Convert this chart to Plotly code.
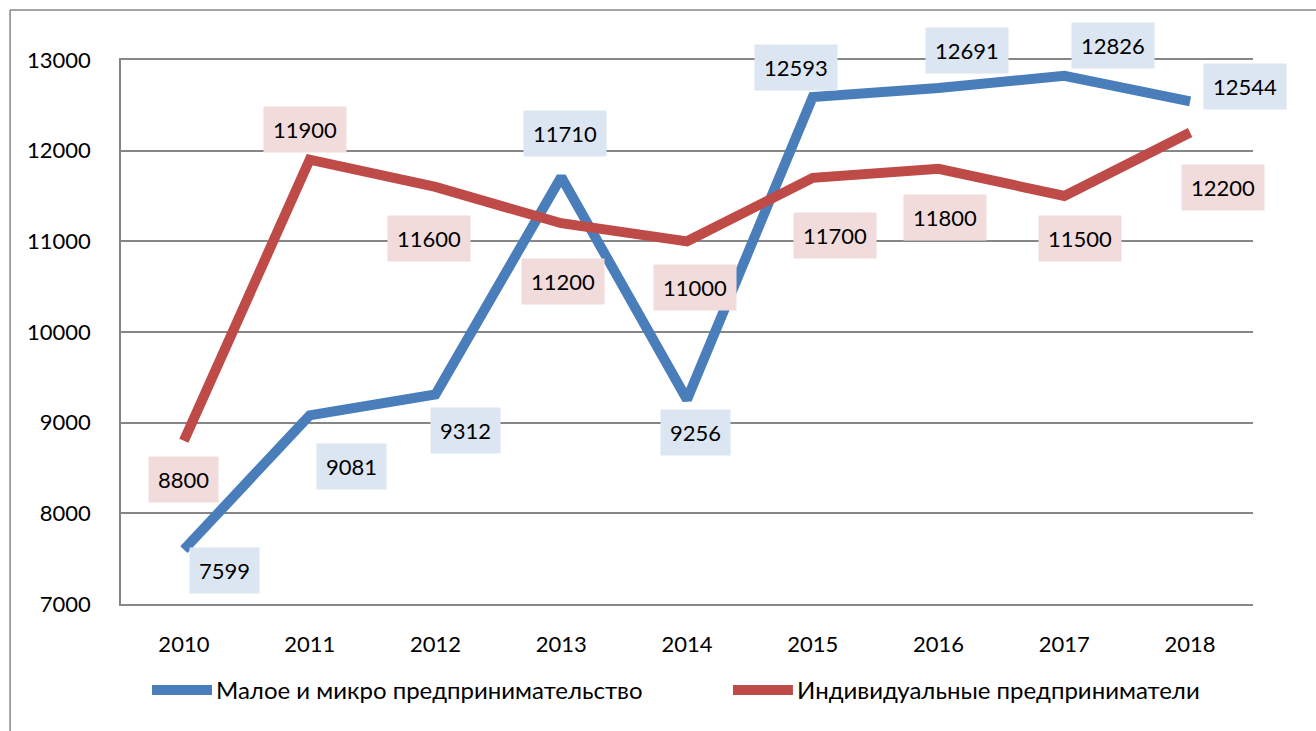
import plotly.graph_objects as go

years = ["2010", "2011", "2012", "2013", "2014", "2015", "2016", "2017", "2018"]
small_micro = [7599, 9081, 9312, 11710, 9256, 12593, 12691, 12826, 12544]
individual = [8800, 11900, 11600, 11200, 11000, 11700, 11800, 11500, 12200]
name_blue = "Малое и микро предпринимательство"
name_red = "Индивидуальные предприниматели"

blue = "#4A7EBB"
red = "#BE4B48"
blue_bg = "#DCE6F2"
red_bg = "#F2DCDB"
grid = "#868686"
font = "Lato, Carlito, 'Liberation Sans', sans-serif"
fs = 22

# label pixel offsets (dx, dy) relative to the point; dy positive = up
blue_off = [(41, -21), (42, -51), (30, -36), (4, 43), (8, -33), (-17, 29), (28, 38), (49, 30), (55, 15)]
red_off = [(0, -39), (-5, 30), (-6, -52), (2, -58), (8, -46), (22, -58), (6, -49), (16, -42), (33, -55)]

fig = go.Figure()
fig.add_trace(go.Scatter(x=years, y=small_micro, mode="lines", name=name_blue,
                         line=dict(color=blue, width=10), showlegend=False))
fig.add_trace(go.Scatter(x=years, y=individual, mode="lines", name=name_red,
                         line=dict(color=red, width=10), showlegend=False))

annotations = []
for ys, offs, bg in [(small_micro, blue_off, blue_bg), (individual, red_off, red_bg)]:
    for i, (y, (dx, dy)) in enumerate(zip(ys, offs)):
        annotations.append(dict(x=i, y=y, xref="x", yref="y", text=str(y), showarrow=False,
                                xshift=dx, yshift=dy, bgcolor=bg, borderpad=9,
                                font=dict(family=font, size=fs, color="#000000")))

# custom legend (paper coordinates)
leg_y = -0.158
shapes = [
    dict(type="line", xref="paper", yref="paper", x0=-0.098, x1=-0.098, y0=1.092, y1=-0.3,
         line=dict(color=grid, width=1.5)),
    dict(type="line", xref="paper", yref="paper", x0=-0.098, x1=1.06, y0=1.092, y1=1.092,
         line=dict(color=grid, width=1.5)),
]
for x0, color, name in [(0.0274, blue, name_blue), (0.5406, red, name_red)]:
    shapes.append(dict(type="line", xref="paper", yref="paper", x0=x0, x1=x0 + 0.053,
                       y0=leg_y, y1=leg_y, line=dict(color=color, width=10)))
    annotations.append(dict(x=x0 + 0.0548, y=leg_y, xref="paper", yref="paper", text=name,
                            showarrow=False, xanchor="left", yanchor="middle",
                            font=dict(family=font, size=24, color="#000000")))

fig.update_layout(
    width=1316, height=731,
    margin=dict(l=121, r=63, t=60, b=127),
    paper_bgcolor="white", plot_bgcolor="white",
    font=dict(family=font, size=fs, color="#000000"),
    showlegend=False,
    annotations=annotations,
    shapes=shapes,
)
fig.update_xaxes(type="category", range=[-0.5, 8.5], showgrid=False, ticks="",
                 showline=True, mirror=True, linecolor=grid, linewidth=1.5,
                 zeroline=False, ticklabelstandoff=20,
                 tickfont=dict(family=font, size=fs))
fig.update_yaxes(range=[7000, 13000], dtick=1000, tick0=7000, tickformat="d",
                 showgrid=True, gridcolor=grid, gridwidth=1.5, showline=True,
                 linecolor=grid, linewidth=1.5, zeroline=False,
                 ticks="", ticklabelstandoff=24, tickfont=dict(family=font, size=fs))

fig.write_html("out.html", config={"displayModeBar": False},
               post_script="document.body.style.margin='0';")
